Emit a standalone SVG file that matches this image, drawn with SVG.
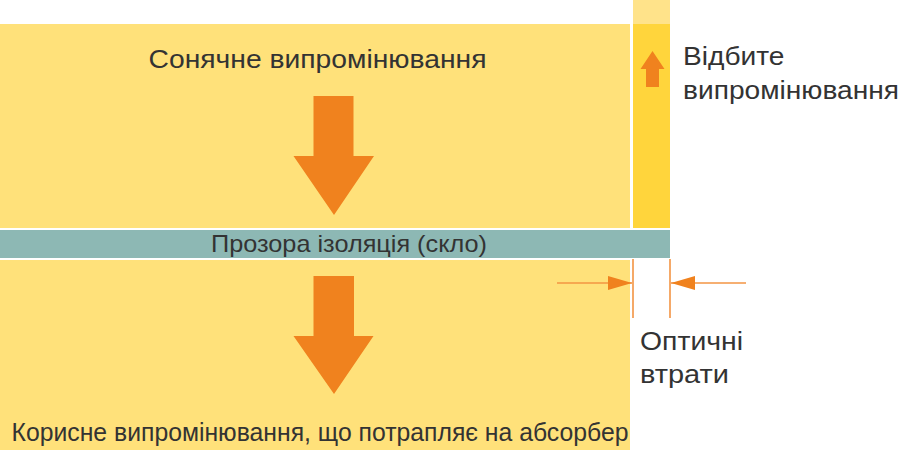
<svg xmlns="http://www.w3.org/2000/svg" width="900" height="450" viewBox="0 0 900 450">
<defs>
<style>
.panel{fill:#FFE17A}
.strip{fill:#FFD53C}
.stripTop{fill:#FFE38A}
.glass{fill:#8DB8B4}
.big{fill:#F0821E}
.t{font-family:"Liberation Sans",Arial,sans-serif;fill:#333333}
.dim{stroke:#F39443;stroke-width:1.6;fill:none}
</style>
<marker id="ah" viewBox="0 0 24 14" refX="24" refY="7" markerWidth="24" markerHeight="14" markerUnits="userSpaceOnUse" orient="auto">
<path d="M0,0 L24,7 L0,14 Z" fill="#F0821E"/>
</marker>
</defs>
<rect width="900" height="450" fill="#FFFFFF"/>
<g id="solar">
<rect class="panel" x="0" y="24" width="630" height="204"/>
<path class="big" d="M313.5,96 H353.5 V156 H374 L334,215 L293.5,156 H313.5 Z"/>
<text class="t" x="148.5" y="68" font-size="26" textLength="338" lengthAdjust="spacingAndGlyphs">Сонячне випромінювання</text>
</g>
<g id="reflected">
<rect class="stripTop" x="633" y="0" width="37" height="24"/>
<rect class="strip" x="633" y="24" width="37" height="204"/>
<path class="big" d="M646,87 V69 H640.5 L652.5,51 L664.5,69 H659 V87 Z"/>
<text class="t" x="683" y="65" font-size="25" textLength="101.5" lengthAdjust="spacingAndGlyphs">Відбите</text>
<text class="t" x="683" y="98.5" font-size="25" textLength="216" lengthAdjust="spacingAndGlyphs">випромінювання</text>
</g>
<g id="glass">
<rect class="glass" x="0" y="230" width="670" height="28"/>
<text class="t" x="211" y="252" font-size="24" textLength="276" lengthAdjust="spacingAndGlyphs">Прозора ізоляція (скло)</text>
</g>
<g id="absorber">
<rect class="panel" x="0" y="260" width="630" height="190"/>
<path class="big" d="M313.5,276 H354 V336 H373.5 L334,394 L293.5,336 H313.5 Z"/>
<text class="t" x="11.5" y="440.5" font-size="25" textLength="617" lengthAdjust="spacingAndGlyphs">Корисне випромінювання, що потрапляє на абсорбер</text>
</g>
<g id="losses">
<text class="t" x="640" y="350" font-size="26" textLength="103" lengthAdjust="spacingAndGlyphs">Оптичні</text>
<text class="t" x="640" y="382.5" font-size="26" textLength="89" lengthAdjust="spacingAndGlyphs">втрати</text>
</g>
<g id="connectors">
<line class="dim" x1="633" y1="259" x2="633" y2="318"/>
<line class="dim" x1="670" y1="259" x2="670" y2="318"/>
<line class="dim" x1="557" y1="283" x2="632" y2="283" marker-end="url(#ah)"/>
<line class="dim" x1="746" y1="283" x2="671" y2="283" marker-end="url(#ah)"/>
</g>
</svg>
